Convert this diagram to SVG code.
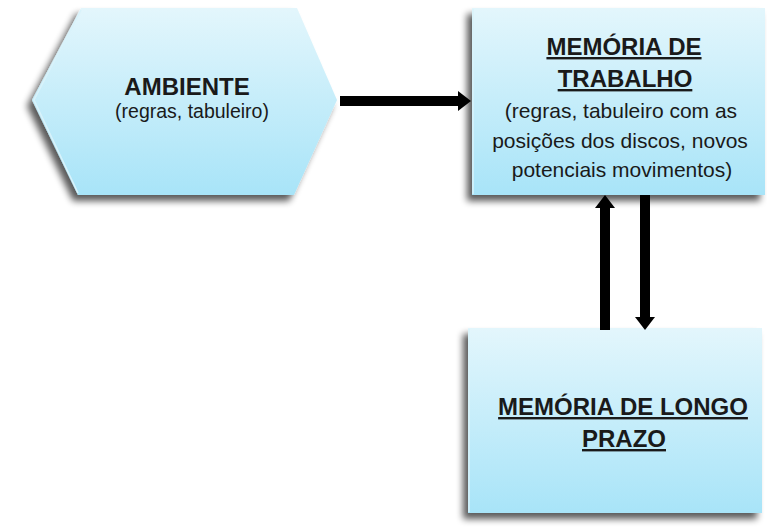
<svg xmlns="http://www.w3.org/2000/svg" width="767" height="527" viewBox="0 0 767 527">
  <defs>
    <linearGradient id="fillGrad" x1="0" y1="0" x2="0" y2="1">
      <stop offset="0" stop-color="#e3f6fc"/>
      <stop offset="1" stop-color="#a8e4f8"/>
    </linearGradient>
    <filter id="shadow" x="-10%" y="-10%" width="125%" height="125%">
      <feGaussianBlur in="SourceAlpha" stdDeviation="3.5"/>
      <feOffset dx="-5" dy="6" result="blur"/>
      <feComponentTransfer><feFuncA type="linear" slope="0.65"/></feComponentTransfer>
      <feMerge><feMergeNode/><feMergeNode in="SourceGraphic"/></feMerge>
    </filter>
    <marker id="head" markerUnits="userSpaceOnUse" markerWidth="14" markerHeight="20" refX="0" refY="10" orient="auto">
      <path d="M0,0 L13,10 L0,20 Z" fill="#000"/>
    </marker>
  </defs>
  <style>
    .node { fill: url(#fillGrad); filter: url(#shadow); }
    .edge { stroke: #d9f3fb; stroke-width: 1.5; fill: none; }
    .title { font-family: "Liberation Sans", Arial, sans-serif; font-weight: bold; font-size: 24px; fill: #1a1a1a; text-anchor: middle; }
    .ul { text-decoration: underline; }
    .body { font-family: "Liberation Sans", Arial, sans-serif; font-size: 21px; fill: #1a1a1a; text-anchor: middle; }
    .small { font-size: 19.5px; }
    .conn { stroke: #000; stroke-width: 10; fill: none; marker-end: url(#head); }
  </style>
  <rect width="767" height="527" fill="#ffffff"/>

  <g id="ambiente">
    <polygon class="node" points="32,100 81,8 297,8 337,100 294,195 78,195"/>
    <polyline class="edge" points="78,193 34,100 81,10"/>
    <text class="title" x="187" y="95">AMBIENTE</text>
    <text class="body small" x="192" y="118">(regras, tabuleiro)</text>
  </g>

  <g id="memoria-trabalho">
    <rect class="node" x="472" y="8" width="293" height="187"/>
    <line class="edge" x1="473" y1="9" x2="473" y2="194"/>
    <text class="title ul" x="624" y="55">MEMÓRIA DE</text>
    <text class="title ul" x="625" y="87">TRABALHO</text>
    <text class="body" x="621" y="118">(regras, tabuleiro com as</text>
    <text class="body" x="620" y="148">posições dos discos, novos</text>
    <text class="body" x="622" y="177">potenciais movimentos)</text>
  </g>

  <g id="memoria-longo-prazo">
    <rect class="node" x="468" y="328" width="294" height="185"/>
    <line class="edge" x1="469" y1="329" x2="469" y2="512"/>
    <text class="title ul" x="623" y="415">MEMÓRIA DE LONGO</text>
    <text class="title ul" x="624" y="447">PRAZO</text>
  </g>

  <g id="connectors">
    <path class="conn" d="M340,101 L458,101"/>
    <path class="conn" d="M605,330 L605,208"/>
    <path class="conn" d="M645,195 L645,317"/>
  </g>
</svg>
